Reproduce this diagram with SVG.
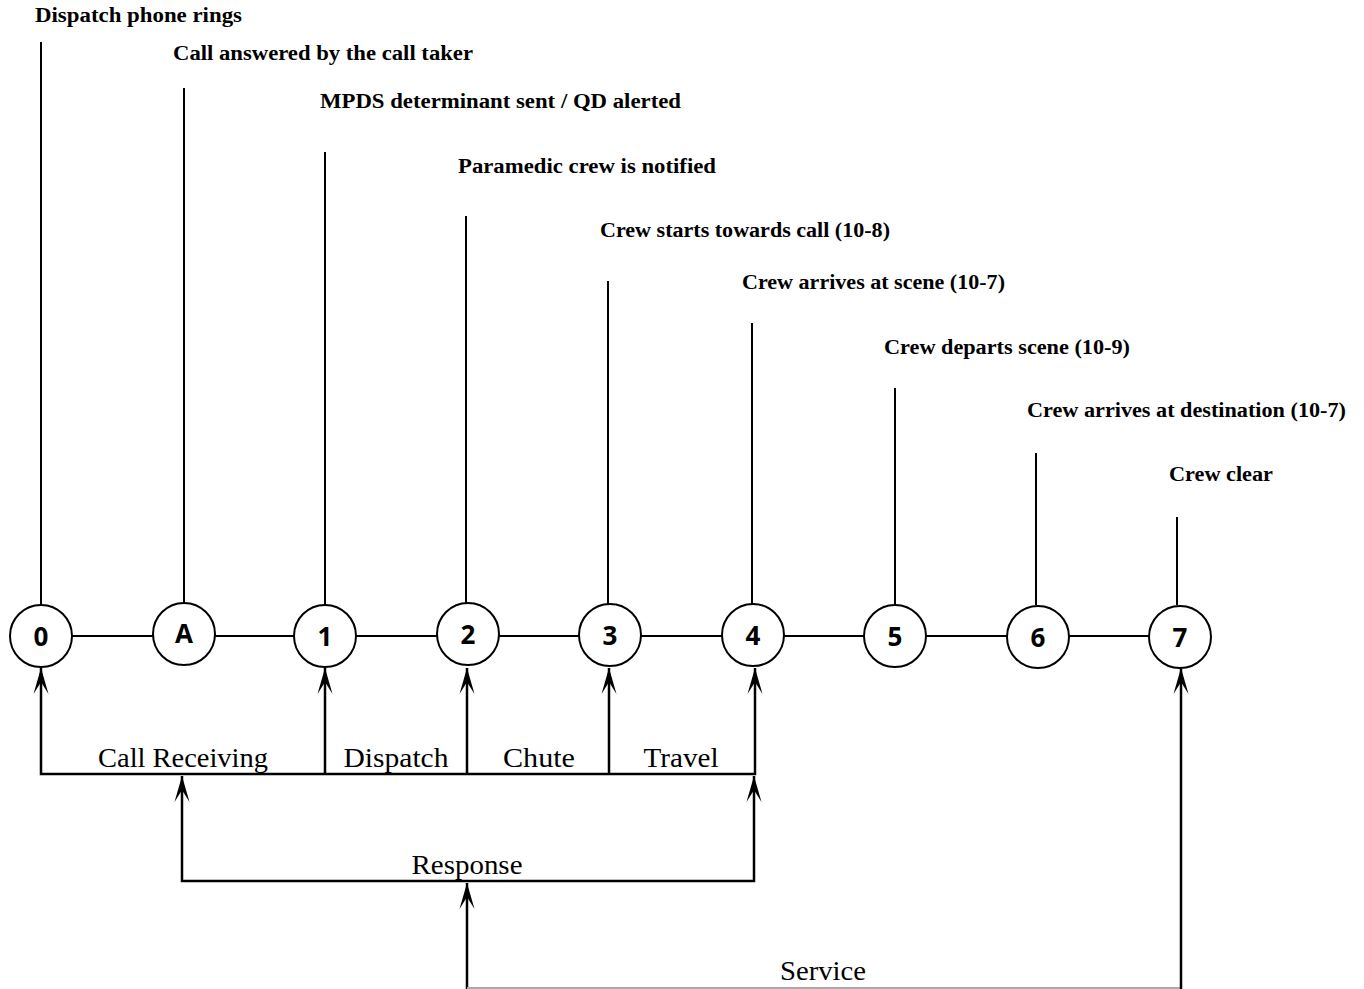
<svg xmlns="http://www.w3.org/2000/svg" width="1364" height="989" viewBox="0 0 1364 989">
  <style>
    .ev { font-family: "Liberation Serif", "DejaVu Serif", serif; font-weight: bold; font-size: 20px; fill: #000; }
    .seg { font-family: "Liberation Serif", "DejaVu Serif", serif; font-size: 27px; fill: #000; text-anchor: middle; }
    .num { font-family: "Open Sans", "DejaVu Sans", sans-serif; font-weight: bold; font-size: 26px; fill: #000; text-anchor: middle; }
    .node circle { fill: #fff; stroke: #000; stroke-width: 2; }
    .tick { stroke: #000; stroke-width: 2; fill: none; }
    .link { stroke: #000; stroke-width: 2; fill: none; }
    .flow { stroke: #000; stroke-width: 2.5; fill: none; }
    .faint { stroke: #aaa; stroke-width: 2; fill: none; }
  </style>
  <defs>
    <path id="ah" d="M0,0 L-7.5,26 L0,14 L7.5,26 Z" fill="#000"/>
  </defs>

  <rect width="1364" height="989" fill="#fff"/>

  <!-- event labels -->
  <g id="events">
    <text class="ev" x="35" y="22" textLength="207" lengthAdjust="spacingAndGlyphs">Dispatch phone rings</text>
    <text class="ev" x="173" y="60" textLength="300" lengthAdjust="spacingAndGlyphs">Call answered by the call taker</text>
    <text class="ev" x="320" y="108" textLength="361" lengthAdjust="spacingAndGlyphs">MPDS determinant sent / QD alerted</text>
    <text class="ev" x="458" y="173" textLength="258" lengthAdjust="spacingAndGlyphs">Paramedic crew is notified</text>
    <text class="ev" x="600" y="237" textLength="290" lengthAdjust="spacingAndGlyphs">Crew starts towards call (10-8)</text>
    <text class="ev" x="742" y="289" textLength="263" lengthAdjust="spacingAndGlyphs">Crew arrives at scene (10-7)</text>
    <text class="ev" x="884" y="354" textLength="246" lengthAdjust="spacingAndGlyphs">Crew departs scene (10-9)</text>
    <text class="ev" x="1027" y="417" textLength="319" lengthAdjust="spacingAndGlyphs">Crew arrives at destination (10-7)</text>
    <text class="ev" x="1169" y="481" textLength="104" lengthAdjust="spacingAndGlyphs">Crew clear</text>
  </g>

  <!-- connectors: event ticks, timeline links, interval brackets -->
  <g id="connectors">
    <line class="tick" x1="41" y1="42" x2="41" y2="605"/>
    <line class="tick" x1="184" y1="88" x2="184" y2="605"/>
    <line class="tick" x1="325" y1="152" x2="325" y2="605"/>
    <line class="tick" x1="466" y1="216" x2="466" y2="605"/>
    <line class="tick" x1="608" y1="281" x2="608" y2="605"/>
    <line class="tick" x1="752" y1="323" x2="752" y2="605"/>
    <line class="tick" x1="895" y1="388" x2="895" y2="605"/>
    <line class="tick" x1="1036" y1="453" x2="1036" y2="605"/>
    <line class="tick" x1="1177" y1="517" x2="1177" y2="605"/>

    <line class="link" x1="41" y1="636" x2="1180" y2="636"/>

    <!-- segment bar -->
    <polyline class="flow" points="41,668 41,774 755,774 755,668"/>
    <line class="flow" x1="325" y1="774" x2="325" y2="668"/>
    <line class="flow" x1="467" y1="774" x2="467" y2="668"/>
    <line class="flow" x1="609" y1="774" x2="609" y2="668"/>
    <use href="#ah" x="41" y="668"/>
    <use href="#ah" x="325" y="668"/>
    <use href="#ah" x="467" y="668"/>
    <use href="#ah" x="609" y="668"/>
    <use href="#ah" x="755" y="668"/>

    <!-- response bracket -->
    <polyline class="flow" points="182,776 182,881 754,881 754,776"/>
    <use href="#ah" x="182" y="776"/>
    <use href="#ah" x="754" y="776"/>

    <!-- service bracket -->
    <line class="flow" x1="467" y1="883" x2="467" y2="989"/>
    <line class="faint" x1="467" y1="988" x2="1181" y2="988"/>
    <line class="flow" x1="1181" y1="668" x2="1181" y2="989"/>
    <use href="#ah" x="467" y="883"/>
    <use href="#ah" x="1181" y="668"/>
  </g>

  <!-- interval labels -->
  <g id="intervals">
    <text class="seg" x="183" y="767" textLength="170" lengthAdjust="spacingAndGlyphs">Call Receiving</text>
    <text class="seg" x="396" y="767" textLength="105" lengthAdjust="spacingAndGlyphs">Dispatch</text>
    <text class="seg" x="539" y="767" textLength="72" lengthAdjust="spacingAndGlyphs">Chute</text>
    <text class="seg" x="681" y="767" textLength="75" lengthAdjust="spacingAndGlyphs">Travel</text>
    <text class="seg" x="467" y="874" textLength="111" lengthAdjust="spacingAndGlyphs">Response</text>
    <text class="seg" x="823" y="980" textLength="86" lengthAdjust="spacingAndGlyphs">Service</text>
  </g>

  <!-- timeline nodes -->
  <g id="node-0" class="node"><circle cx="41" cy="636" r="31"/><text class="num" x="41" y="646">0</text></g>
  <g id="node-A" class="node"><circle cx="184" cy="634" r="31"/><text class="num" x="184" y="643">A</text></g>
  <g id="node-1" class="node"><circle cx="325" cy="636" r="31"/><text class="num" x="325" y="646">1</text></g>
  <g id="node-2" class="node"><circle cx="468" cy="634" r="31"/><text class="num" x="468" y="644">2</text></g>
  <g id="node-3" class="node"><circle cx="610" cy="635" r="31"/><text class="num" x="610" y="645">3</text></g>
  <g id="node-4" class="node"><circle cx="753" cy="635" r="31"/><text class="num" x="753" y="645">4</text></g>
  <g id="node-5" class="node"><circle cx="895" cy="636" r="31"/><text class="num" x="895" y="646">5</text></g>
  <g id="node-6" class="node"><circle cx="1038" cy="637" r="31"/><text class="num" x="1038" y="647">6</text></g>
  <g id="node-7" class="node"><circle cx="1180" cy="637" r="31"/><text class="num" x="1180" y="647">7</text></g>
</svg>
